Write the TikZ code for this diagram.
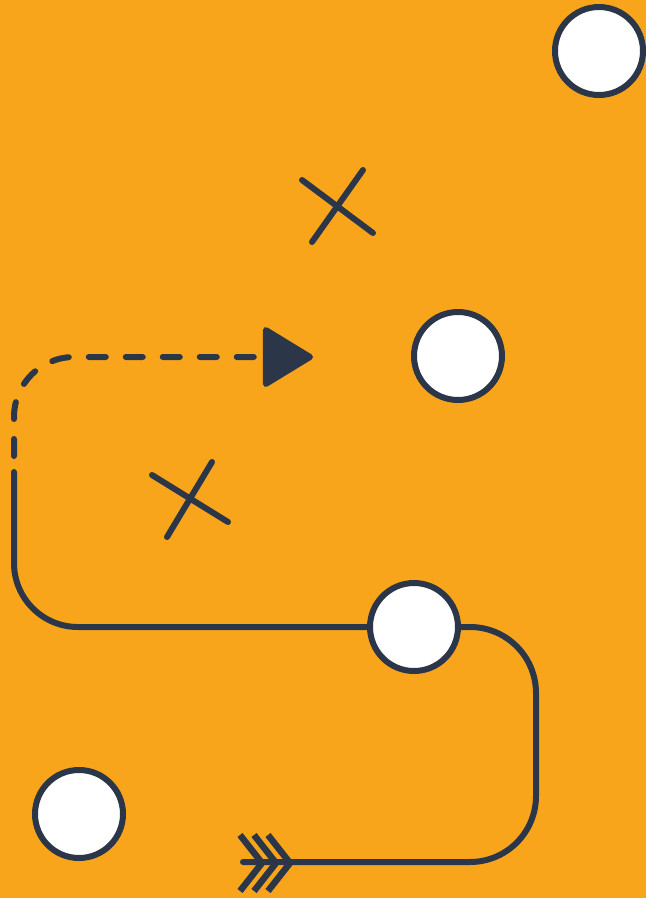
\documentclass[tikz,border=0pt]{standalone}
\usepackage{tikz}
\usetikzlibrary{arrows.meta, positioning}
\definecolor{amber}{HTML}{F9A51B}
\definecolor{ink}{HTML}{2B3649}

\begin{document}
\begin{tikzpicture}[
  x=1pt, y=-1pt,
  spot/.style={circle, draw=ink, fill=white, line width=6pt, minimum size=88pt, inner sep=0pt},
  route/.style={draw=ink, line width=6pt, line cap=round},
  dashroute/.style={route, dash pattern=on 17pt off 20pt, rounded corners=60pt},
  cross/.style={draw=ink, line width=6pt, line cap=round}
]
% Background
\fill[amber] (0,0) rectangle (646,898);
\useasboundingbox (0,0) rectangle (646,898);

% Circles
\node[spot] (topspot) at (599,51) {};
\node[spot] (midspot) at (458,356) {};
\node[spot] (stop) at (414,627) {};
\node[spot] (lowspot) at (79,814) {};

% Path points
\coordinate (dashstart) at (14,456);
\coordinate (aim) at (313,357);
\coordinate (linestart) at (14,472);
\coordinate (turn) at (536,862);
\coordinate (tail) at (243,862);

% Dashed part with arrow head
\draw[dashroute, -{Triangle[length=53pt,width=63pt,round=false]}] (dashstart) |- (aim);

% Solid route through the stop
\draw[route, rounded corners=64pt] (linestart) |- (stop.west);
\draw[route, rounded corners=66pt] (stop.east) -| (turn) -- (tail);

% Fletching
\foreach \dx in {0,14,28}
  \draw[draw=ink, line width=6.5pt] (240+\dx,835) -- (262+\dx,863) -- (240+\dx,891);

% Crosses
\draw[cross] (312,242) -- (363,170);
\draw[cross] (302,180) -- (373,233);
\draw[cross] (167,537) -- (212,462);
\draw[cross] (152,475) -- (228,522);

\end{tikzpicture}
\end{document}
